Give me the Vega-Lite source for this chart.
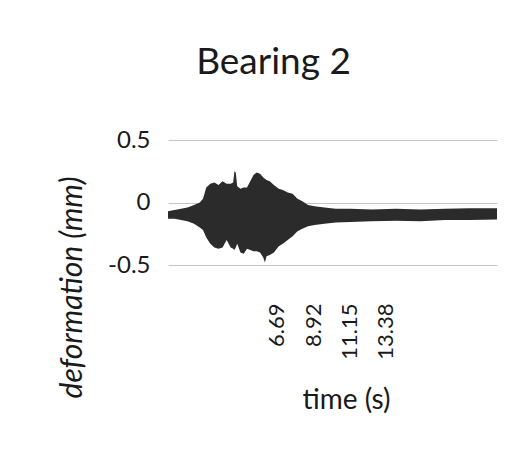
{
  "$schema": "https://vega.github.io/schema/vega-lite/v6.json",
  "autosize": "none",
  "width": 329,
  "height": 125,
  "padding": {"left": 168, "top": 140, "right": 27, "bottom": 195},
  "background": "white",
  "title": {"text": "Bearing 2", "font": "Lato", "fontSize": 37, "fontWeight": "normal", "color": "#1a1a1a", "anchor": "middle", "dx": -59, "offset": 46},
  "config": {"view": {"stroke": null}},
  "data": {"values": [
    {"t": 0.00, "hi": -0.07, "lo": -0.13},
    {"t": 0.40, "hi": -0.06, "lo": -0.13},
    {"t": 0.80, "hi": -0.05, "lo": -0.14},
    {"t": 1.20, "hi": -0.04, "lo": -0.15},
    {"t": 1.60, "hi": -0.02, "lo": -0.17},
    {"t": 1.95, "hi": 0.00, "lo": -0.20},
    {"t": 2.15, "hi": 0.03, "lo": -0.22},
    {"t": 2.35, "hi": 0.12, "lo": -0.28},
    {"t": 2.60, "hi": 0.15, "lo": -0.33},
    {"t": 2.85, "hi": 0.16, "lo": -0.36},
    {"t": 3.10, "hi": 0.14, "lo": -0.37},
    {"t": 3.35, "hi": 0.17, "lo": -0.36},
    {"t": 3.60, "hi": 0.15, "lo": -0.30},
    {"t": 3.85, "hi": 0.15, "lo": -0.36},
    {"t": 4.00, "hi": 0.16, "lo": -0.37},
    {"t": 4.08, "hi": 0.25, "lo": -0.38},
    {"t": 4.16, "hi": 0.24, "lo": -0.36},
    {"t": 4.25, "hi": 0.13, "lo": -0.33},
    {"t": 4.45, "hi": 0.11, "lo": -0.40},
    {"t": 4.65, "hi": 0.12, "lo": -0.41},
    {"t": 4.85, "hi": 0.12, "lo": -0.37},
    {"t": 5.05, "hi": 0.17, "lo": -0.38},
    {"t": 5.25, "hi": 0.22, "lo": -0.39},
    {"t": 5.45, "hi": 0.24, "lo": -0.39},
    {"t": 5.65, "hi": 0.23, "lo": -0.40},
    {"t": 5.85, "hi": 0.20, "lo": -0.44},
    {"t": 5.95, "hi": 0.19, "lo": -0.48},
    {"t": 6.05, "hi": 0.18, "lo": -0.43},
    {"t": 6.25, "hi": 0.17, "lo": -0.42},
    {"t": 6.50, "hi": 0.14, "lo": -0.40},
    {"t": 6.80, "hi": 0.11, "lo": -0.35},
    {"t": 7.05, "hi": 0.10, "lo": -0.33},
    {"t": 7.35, "hi": 0.08, "lo": -0.30},
    {"t": 7.65, "hi": 0.07, "lo": -0.27},
    {"t": 7.95, "hi": 0.03, "lo": -0.23},
    {"t": 8.25, "hi": 0.01, "lo": -0.21},
    {"t": 8.60, "hi": -0.02, "lo": -0.19},
    {"t": 9.00, "hi": -0.03, "lo": -0.18},
    {"t": 9.60, "hi": -0.04, "lo": -0.17},
    {"t": 10.3, "hi": -0.05, "lo": -0.16},
    {"t": 11.2, "hi": -0.05, "lo": -0.155},
    {"t": 12.5, "hi": -0.055, "lo": -0.15},
    {"t": 14.0, "hi": -0.05, "lo": -0.145},
    {"t": 15.5, "hi": -0.055, "lo": -0.15},
    {"t": 17.0, "hi": -0.05, "lo": -0.14},
    {"t": 18.5, "hi": -0.045, "lo": -0.14},
    {"t": 20.2, "hi": -0.045, "lo": -0.135}
  ]},
  "mark": {"type": "area", "color": "#2b2b2b", "interpolate": "linear"},
  "encoding": {
    "x": {
      "field": "t", "type": "quantitative",
      "scale": {"domain": [0, 20.2], "nice": false, "zero": false},
      "axis": {
        "values": [6.69, 8.92, 11.15, 13.38],
        "format": ".2f",
        "labelAngle": -90,
        "labelFont": "Lato", "labelFontSize": 22, "labelColor": "#1a1a1a",
        "labelPadding": 38,
        "ticks": false, "domain": false, "grid": false,
        "title": "time (s)", "titleFont": "Lato", "titleFontSize": 28, "titleFontWeight": "normal", "titleColor": "#1a1a1a",
        "titleX": 178, "titleY": 135, "titleBaseline": "middle", "titleAlign": "center"
      }
    },
    "y": {
      "field": "hi", "type": "quantitative",
      "scale": {"domain": [-0.5, 0.5], "nice": false},
      "axis": {
        "values": [-0.5, 0, 0.5],
        "labelExpr": "datum.value == 0 ? '0' : (datum.value > 0 ? '0.5' : '-0.5')",
        "labelFont": "Lato", "labelFontSize": 24, "labelColor": "#1a1a1a",
        "labelPadding": 18,
        "ticks": false, "domain": false,
        "grid": true, "gridColor": "#c6c6c6", "gridWidth": 1.2,
        "title": "deformation  (mm)", "titleFont": "Lato", "titleFontStyle": "italic", "titleFontSize": 30, "titleFontWeight": "normal", "titleColor": "#1a1a1a",
        "titleX": -96, "titleY": 147, "titleBaseline": "middle", "titleAlign": "center", "titleAngle": -90
      }
    },
    "y2": {"field": "lo"}
  }
}
